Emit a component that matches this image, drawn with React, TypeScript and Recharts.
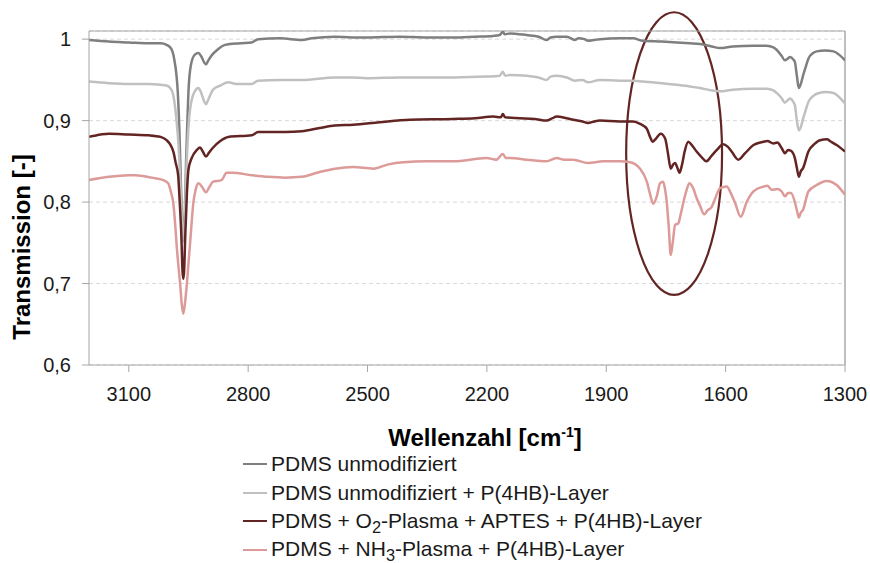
import React from 'react';
import {
  LineChart,
  Line,
  XAxis,
  YAxis,
  CartesianGrid,
  ReferenceArea,
  ReferenceLine,
  Legend,
} from 'recharts';

// ---- axis ticks ----
const xTicks = [3100, 2800, 2500, 2200, 1900, 1600, 1300];
const yTicks = [0.6, 0.7, 0.8, 0.9, 1];

// ---- series names & colours ----
const seriesNames = [
  'PDMS unmodifiziert',
  'PDMS unmodifiziert + P(4HB)-Layer',
  'PDMS + O_2-Plasma + APTES + P(4HB)-Layer',
  'PDMS + NH_3-Plasma + P(4HB)-Layer',
];
const seriesColors = ['#7f7f7f', '#c0c0c0', '#632523', '#dc9a98'];

// ---- spectra: [wavenumber cm-1, transmission] ----
const pdmsUnmod: [number, number][] = [
  [3200, 0.999], [3150, 0.997], [3100, 0.996], [3050, 0.995], [3020, 0.995], [3005, 0.993],
  [2993, 0.988], [2986, 0.976], [2980, 0.955], [2977, 0.936], [2973, 0.89], [2970, 0.84],
  [2967, 0.79], [2964, 0.762], [2962, 0.762], [2959, 0.79], [2956, 0.85], [2952, 0.91],
  [2950, 0.936], [2944, 0.968], [2934, 0.981], [2925, 0.983], [2918, 0.979], [2910, 0.971],
  [2906, 0.969], [2900, 0.974], [2892, 0.98], [2875, 0.988], [2858, 0.993], [2820, 0.995],
  [2791, 0.996], [2775, 1.0], [2720, 1.001], [2665, 0.999], [2640, 1.001], [2582, 1.003],
  [2540, 1.002], [2502, 1.002], [2420, 1.003], [2350, 1.002], [2285, 1.002], [2230, 1.003],
  [2184, 1.004], [2168, 1.005], [2160, 1.009], [2155, 1.006], [2142, 1.007], [2100, 1.005],
  [2070, 1.003], [2050, 0.999], [2040, 1.002], [2025, 1.003], [1999, 1.003], [1979, 0.999],
  [1970, 1.001], [1955, 1.0], [1946, 0.998], [1930, 0.999], [1916, 1.0], [1866, 1.001],
  [1833, 1.001], [1808, 0.998], [1760, 0.997], [1723, 0.996], [1690, 0.995], [1664, 0.994],
  [1635, 0.991], [1614, 0.989], [1582, 0.991], [1530, 0.992], [1497, 0.992], [1480, 0.99],
  [1472, 0.987], [1460, 0.98], [1451, 0.974], [1444, 0.976], [1438, 0.978], [1430, 0.975],
  [1426, 0.972], [1421, 0.955], [1416, 0.94], [1411, 0.945], [1405, 0.956], [1398, 0.967],
  [1392, 0.976], [1380, 0.983], [1371, 0.985], [1350, 0.986], [1329, 0.985], [1315, 0.981],
  [1300, 0.974],
];

const pdmsUnmodLayer: [number, number][] = [
  [3200, 0.948], [3150, 0.946], [3100, 0.945], [3050, 0.945], [3020, 0.944], [3005, 0.943],
  [2993, 0.938], [2986, 0.925], [2980, 0.9], [2975, 0.87], [2971, 0.83], [2967, 0.785],
  [2964, 0.752], [2962, 0.752], [2959, 0.78], [2956, 0.83], [2952, 0.875], [2948, 0.905],
  [2942, 0.925], [2934, 0.936], [2925, 0.94], [2918, 0.934], [2910, 0.923], [2906, 0.92],
  [2900, 0.926], [2888, 0.938], [2870, 0.943], [2850, 0.947], [2830, 0.945], [2791, 0.945],
  [2775, 0.949], [2720, 0.95], [2665, 0.95], [2582, 0.953], [2540, 0.953], [2502, 0.952],
  [2420, 0.953], [2350, 0.953], [2285, 0.953], [2200, 0.954], [2168, 0.955], [2160, 0.96],
  [2154, 0.955], [2142, 0.956], [2100, 0.955], [2070, 0.953], [2050, 0.95], [2040, 0.954],
  [2025, 0.955], [1999, 0.953], [1979, 0.949], [1960, 0.95], [1946, 0.947], [1916, 0.95],
  [1866, 0.949], [1833, 0.949], [1808, 0.948], [1760, 0.946], [1723, 0.944], [1690, 0.942],
  [1664, 0.94], [1635, 0.937], [1614, 0.936], [1582, 0.938], [1530, 0.939], [1497, 0.939],
  [1480, 0.937], [1472, 0.934], [1460, 0.928], [1451, 0.922], [1444, 0.925], [1438, 0.927],
  [1430, 0.923], [1426, 0.919], [1421, 0.9], [1416, 0.888], [1411, 0.892], [1405, 0.903],
  [1398, 0.914], [1392, 0.923], [1380, 0.93], [1371, 0.933], [1350, 0.935], [1329, 0.934],
  [1315, 0.929], [1300, 0.921],
];

const pdmsO2Aptes: [number, number][] = [
  [3200, 0.88], [3170, 0.883], [3150, 0.884], [3100, 0.883], [3050, 0.882], [3020, 0.88],
  [3005, 0.876], [2995, 0.87], [2988, 0.862], [2982, 0.848], [2976, 0.833], [2972, 0.8],
  [2968, 0.76], [2965, 0.715], [2963, 0.706], [2961, 0.715], [2958, 0.76], [2954, 0.81],
  [2950, 0.84], [2942, 0.854], [2929, 0.864], [2921, 0.867], [2914, 0.862], [2906, 0.856],
  [2898, 0.861], [2888, 0.867], [2870, 0.875], [2850, 0.88], [2791, 0.882], [2775, 0.886],
  [2707, 0.886], [2665, 0.887], [2620, 0.891], [2582, 0.894], [2536, 0.895], [2470, 0.898],
  [2393, 0.901], [2285, 0.902], [2230, 0.903], [2184, 0.905], [2165, 0.904], [2160, 0.908],
  [2154, 0.904], [2117, 0.903], [2080, 0.902], [2050, 0.9], [2035, 0.903], [2025, 0.905],
  [2000, 0.903], [1983, 0.901], [1960, 0.899], [1946, 0.897], [1930, 0.899], [1916, 0.9],
  [1866, 0.899], [1832, 0.899], [1815, 0.896], [1798, 0.89], [1790, 0.88], [1783, 0.874],
  [1775, 0.878], [1763, 0.884], [1752, 0.878], [1745, 0.86], [1738, 0.841], [1732, 0.846],
  [1727, 0.848], [1722, 0.843], [1716, 0.836], [1710, 0.845], [1703, 0.862], [1694, 0.874],
  [1685, 0.87], [1673, 0.862], [1660, 0.855], [1649, 0.85], [1635, 0.857], [1622, 0.864],
  [1606, 0.871], [1595, 0.868], [1585, 0.862], [1568, 0.852], [1551, 0.86], [1530, 0.87],
  [1505, 0.874], [1495, 0.875], [1480, 0.872], [1470, 0.873], [1459, 0.866], [1451, 0.86],
  [1443, 0.864], [1436, 0.863], [1426, 0.854], [1421, 0.842], [1416, 0.831], [1411, 0.838],
  [1406, 0.841], [1392, 0.862], [1375, 0.872], [1363, 0.876], [1345, 0.877], [1338, 0.875],
  [1321, 0.87], [1300, 0.862],
];

const pdmsNh3: [number, number][] = [
  [3200, 0.827], [3150, 0.831], [3100, 0.833], [3084, 0.833], [3042, 0.83], [3013, 0.827],
  [3001, 0.823], [2994, 0.812], [2988, 0.798], [2983, 0.77], [2980, 0.749], [2975, 0.72],
  [2971, 0.7], [2967, 0.675], [2963, 0.663], [2959, 0.675], [2954, 0.7], [2950, 0.725],
  [2946, 0.749], [2942, 0.775], [2938, 0.798], [2932, 0.815], [2925, 0.823], [2915, 0.818],
  [2906, 0.812], [2898, 0.818], [2888, 0.825], [2867, 0.827], [2854, 0.836], [2840, 0.836],
  [2791, 0.833], [2750, 0.831], [2707, 0.83], [2665, 0.831], [2620, 0.837], [2582, 0.841],
  [2536, 0.843], [2485, 0.841], [2450, 0.846], [2410, 0.849], [2350, 0.85], [2284, 0.85],
  [2201, 0.854], [2176, 0.852], [2160, 0.859], [2152, 0.854], [2142, 0.854], [2100, 0.852],
  [2050, 0.85], [2025, 0.854], [2005, 0.852], [1983, 0.852], [1946, 0.848], [1908, 0.85],
  [1866, 0.85], [1840, 0.849], [1815, 0.841], [1798, 0.825], [1790, 0.81], [1782, 0.798],
  [1773, 0.807], [1765, 0.823], [1757, 0.825], [1752, 0.815], [1748, 0.8], [1743, 0.77],
  [1738, 0.735], [1733, 0.75], [1727, 0.772], [1719, 0.774], [1713, 0.785], [1706, 0.8],
  [1698, 0.815], [1691, 0.823], [1680, 0.815], [1673, 0.805], [1664, 0.795], [1654, 0.785],
  [1645, 0.79], [1635, 0.794], [1625, 0.806], [1614, 0.817], [1597, 0.819], [1588, 0.812],
  [1577, 0.8], [1562, 0.782], [1547, 0.8], [1530, 0.813], [1505, 0.819], [1495, 0.82],
  [1484, 0.815], [1470, 0.816], [1459, 0.813], [1451, 0.807], [1443, 0.811], [1436, 0.811],
  [1426, 0.8], [1421, 0.79], [1416, 0.781], [1411, 0.787], [1406, 0.79], [1392, 0.813],
  [1371, 0.821], [1346, 0.826], [1321, 0.821], [1300, 0.809],
];

// highlighted region (ellipse bounds in data units)
const ellipseX = [1850, 1609];
const ellipseY = [0.686, 1.033];

const allSeries = [pdmsUnmod, pdmsUnmodLayer, pdmsO2Aptes, pdmsNh3];

const toRows = (pts: [number, number][]) => pts.map(([w, t]) => ({ w, t }));

const FONT = '"Liberation Sans", Arial, Helvetica, sans-serif';
const TEXT = '#1a1a1a';

const renderName = (name: string) => {
  const parts = name.split(/_(\d)/);
  return parts.map((p, i) =>
    i % 2 === 1 ? (
      <span key={i} style={{ fontSize: '0.78em', position: 'relative', top: '0.3em' }}>
        {p}
      </span>
    ) : (
      <span key={i}>{p}</span>
    )
  );
};

const LegendContent = () => (
  <div style={{ fontFamily: FONT, fontSize: 21, color: TEXT }}>
    {seriesNames.map((n, i) => (
      <div
        key={n}
        style={{ display: 'flex', alignItems: 'center', height: 28.5, whiteSpace: 'nowrap' }}
      >
        <span
          style={{
            display: 'inline-block',
            width: 24,
            height: 2,
            background: seriesColors[i],
            marginRight: 4,
          }}
        />
        <span style={{ lineHeight: '24px' }}>{renderName(n)}</span>
      </div>
    ))}
  </div>
);

const EllipseShape = (props: any) => {
  const { x, y, width, height } = props;
  const w = Math.abs(width);
  const h = Math.abs(height);
  const cx = (width >= 0 ? x : x + width) + w / 2;
  const cy = (height >= 0 ? y : y + height) + h / 2;
  return <ellipse cx={cx} cy={cy} rx={w / 2} ry={h / 2} fill="none" stroke="#632523" strokeWidth={2.2} />;
};

const fmtY = (v: number) => String(Math.round(v * 10) / 10).replace('.', ',');

export default function App() {
  return (
    <div
      style={{
        position: 'absolute',
        left: 0,
        top: 0,
        width: 870,
        height: 563,
        background: '#fff',
        fontFamily: FONT,
      }}
    >
      <LineChart width={870} height={563} margin={{ top: 31, right: 25, bottom: 138, left: 0 }}>
        <CartesianGrid horizontal vertical={false} stroke="#d9d9d9" strokeDasharray="4 3" />
        <XAxis
          type="number"
          dataKey="w"
          domain={[1300, 3200]}
          reversed
          allowDataOverflow
          ticks={xTicks}
          interval={0}
          height={60}
          tickSize={7}
          tickMargin={15}
          stroke="#a6a6a6"
          tick={{ fill: TEXT, fontSize: 20 }}
          label={{
            content: () => (
              <text x={485} y={446} textAnchor="middle" fontSize={24} fontWeight="bold" fill="#000">
                <tspan>Wellenzahl [cm</tspan>
                <tspan dy={-9} fontSize={14}>-1</tspan>
                <tspan dy={9}>]</tspan>
              </text>
            ),
          }}
        />
        <YAxis
          type="number"
          dataKey="t"
          domain={[0.6, 1.01]}
          allowDataOverflow
          ticks={yTicks}
          interval={0}
          width={89}
          tickSize={7}
          tickMargin={11}
          stroke="#a6a6a6"
          tick={{ fill: TEXT, fontSize: 20 }}
          tickFormatter={fmtY}
          label={{
            content: () => (
              <text
                x={21}
                y={247}
                transform="rotate(-90 21 247)"
                textAnchor="middle"
                dominantBaseline="central"
                fontSize={24}
                fontWeight="bold"
                fill="#000"
              >
                Transmission [-]
              </text>
            ),
          }}
        />
        <ReferenceLine y={1.01} stroke="#a6a6a6" strokeWidth={1} />
        <ReferenceLine x={1300} stroke="#7f7f7f" strokeWidth={1} />
        {allSeries.map((s, i) => (
          <Line
            key={seriesNames[i]}
            data={toRows(s)}
            dataKey="t"
            name={seriesNames[i]}
            type="monotone"
            stroke={seriesColors[i]}
            strokeWidth={2.5}
            dot={false}
            activeDot={false}
            isAnimationActive={false}
          />
        ))}
        <ReferenceArea
          x1={ellipseX[0]}
          x2={ellipseX[1]}
          y1={ellipseY[0]}
          y2={ellipseY[1]}
          ifOverflow="visible"
          shape={EllipseShape}
        />
        <Legend
          layout="vertical"
          align="center"
          verticalAlign="middle"
          wrapperStyle={{ left: 243, top: 450, width: 'auto' }}
          content={LegendContent}
        />
      </LineChart>
    </div>
  );
}
